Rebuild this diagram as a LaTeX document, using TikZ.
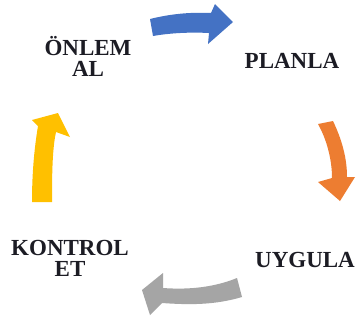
\documentclass[tikz,border=0pt]{standalone}
\usepackage{fontspec}
\setmainfont{Liberation Serif}
\definecolor{ablue}{HTML}{4472C4}
\definecolor{aorange}{HTML}{ED7D31}
\definecolor{ayellow}{HTML}{FFC000}
\definecolor{agray}{HTML}{A5A5A5}
\definecolor{txt}{HTML}{1C1C24}
\begin{document}
\begin{tikzpicture}[x=1pt,y=-1pt,
  lbl/.style={font=\fontsize{23}{21}\selectfont\bfseries, text=txt, align=center, inner sep=0pt}]
\useasboundingbox[fill=white] (0,0) rectangle (356,322);
% arrows
\fill[ablue] (150,19) .. controls (170,14) and (190,12) .. (211,13) -- (215,4) -- (233,22) -- (208,44) -- (209,33) .. controls (190,32) and (170,33) .. (153,36) -- cycle;
\fill[aorange] (318,124) -- (333,121) .. controls (342,140) and (347,158) .. (347,177) -- (355,177) -- (340,201) -- (318,182) -- (332,178) .. controls (332,160) and (327,140) .. (318,124) -- cycle;
\fill[ayellow] (32,202) -- (52,202) .. controls (52,180) and (52,150) .. (56,132) -- (70,137) -- (58,113) -- (32,120) -- (38,126) .. controls (34,150) and (32,175) .. (32,202) -- cycle;
\fill[agray] (242,297) .. controls (215,305) and (190,305) .. (162,303) -- (150,315) -- (142,290) -- (163,273) -- (163,288) .. controls (190,290) and (215,287) .. (237,278) -- cycle;
% labels
\node[lbl] (onlem) at (88,56) {ÖNLEM\\AL};
\node[lbl] (planla) at (292,61) {PLANLA};
\node[lbl] (kontrol) at (70,258) {KONTROL\\ET};
\node[lbl] (uygula) at (305,260) {UYGULA};
\end{tikzpicture}
\end{document}
